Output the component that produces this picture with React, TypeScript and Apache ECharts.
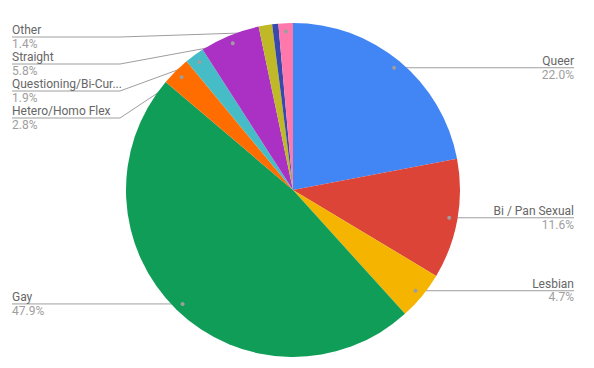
import React, { useEffect, useRef } from "react";
import * as echarts from "echarts";

// Survey shares (percent), clockwise from 12 o'clock
const categories = [
  "Queer",
  "Bi / Pan Sexual",
  "Lesbian",
  "Gay",
  "Hetero/Homo Flex",
  "Questioning/Bi-Curious",
  "Straight",
  "Unlabeled A",
  "Unlabeled B",
  "Other",
];
const shares = [22.0, 11.6, 4.7, 47.9, 2.8, 1.9, 5.8, 1.3, 0.6, 1.4];
const labeled = [true, true, true, true, true, true, true, false, false, true];
const colors = [
  "#4285F4",
  "#DB4437",
  "#F4B400",
  "#0F9D58",
  "#FF6D00",
  "#46BDC6",
  "#AB30C4",
  "#BFB928",
  "#3949AB",
  "#FF78AC",
];

const W = 594;
const H = 368;
const CX = 293;
const CY = 190;
const R = 167;
const DOT_R = R * 0.95;
const LEFT_X = 12;
const RIGHT_X = 574;
const LABEL_W = 108;
const GAP = 27;
const TOP_Y = 37;
const LINE_COLOR = "#9E9E9E";

type Placement = {
  side: "left" | "right";
  dot: [number, number];
  lineY: number;
};

// Anchor dots sit on each slice's mid angle; labels stack so they never overlap.
function computePlacements(): (Placement | null)[] {
  const total = shares.reduce((a, b) => a + b, 0);
  let acc = 0;
  const out: (Placement | null)[] = shares.map((v, i) => {
    const mid = ((acc + v / 2) / total) * Math.PI * 2;
    acc += v;
    if (!labeled[i]) return null;
    const x = CX + DOT_R * Math.sin(mid);
    const y = CY - DOT_R * Math.cos(mid);
    return { side: x >= CX ? "right" : "left", dot: [x, y], lineY: y };
  });
  (["left", "right"] as const).forEach((side) => {
    const items = out
      .filter((p): p is Placement => !!p && p.side === side)
      .sort((a, b) => a.dot[1] - b.dot[1]);
    let prev = -Infinity;
    items.forEach((p) => {
      p.lineY = Math.max(p.dot[1], prev + GAP, TOP_Y);
      prev = p.lineY;
    });
  });
  return out;
}

export default function App() {
  const ref = useRef<HTMLDivElement>(null);

  useEffect(() => {
    if (!ref.current) return;
    const chart = echarts.init(ref.current, undefined, { renderer: "svg" });
    const placements = computePlacements();

    const data = categories.map((name, i) => {
      const item: any = {
        name,
        value: shares[i],
        itemStyle: { color: colors[i] },
      };
      if (!labeled[i]) {
        item.label = { show: false };
        item.labelLine = { show: false };
      } else if (name === "Questioning/Bi-Curious") {
        item.label = { width: LABEL_W + 5, overflow: "truncate", ellipsis: "..." };
      }
      return item;
    });

    const dots = placements
      .filter((p): p is Placement => !!p)
      .map((p) => ({
        type: "circle",
        shape: { cx: p.dot[0], cy: p.dot[1], r: 2 },
        style: { fill: LINE_COLOR },
        z: 100,
      }));

    chart.setOption({
      animation: false,
      backgroundColor: "#ffffff",
      textStyle: { fontFamily: "Roboto, Arial, sans-serif" },
      graphic: dots,
      series: [
        {
          type: "pie",
          center: [CX, CY],
          radius: [0, R],
          startAngle: 90,
          clockwise: true,
          avoidLabelOverlap: false,
          data,
          label: {
            show: true,
            formatter: (p: any) => `{n|${p.name}}\n{p|${Number(p.value).toFixed(1)}%}`,
            rich: {
              n: {
                color: "#666666",
                fontSize: 12,
                lineHeight: 13.5,
                fontFamily: "Roboto, Arial, sans-serif",
              },
              p: {
                color: "#9E9E9E",
                fontSize: 12,
                lineHeight: 13.5,
                fontFamily: "Roboto, Arial, sans-serif",
              },
            },
          },
          labelLine: {
            show: true,
            lineStyle: { color: LINE_COLOR, width: 1 },
          },
          labelLayout: (params: any) => {
            const p = placements[params.dataIndex];
            if (!p) return {};
            const left = p.side === "left";
            const endX = left ? LEFT_X : RIGHT_X;
            const bendX = left ? LEFT_X + LABEL_W : RIGHT_X - LABEL_W;
            return {
              x: endX,
              y: p.lineY,
              align: left ? "left" : "right",
              verticalAlign: "middle",
              labelLinePoints: [
                [p.dot[0], p.dot[1]],
                [left ? bendX : Math.min(bendX, p.dot[0]), p.lineY],
                [endX, p.lineY],
              ],
            };
          },
          emphasis: { disabled: true },
        },
      ],
    });

    return () => chart.dispose();
  }, []);

  return (
    <div
      ref={ref}
      style={{ position: "fixed", left: 0, top: 0, width: W, height: H }}
    />
  );
}
